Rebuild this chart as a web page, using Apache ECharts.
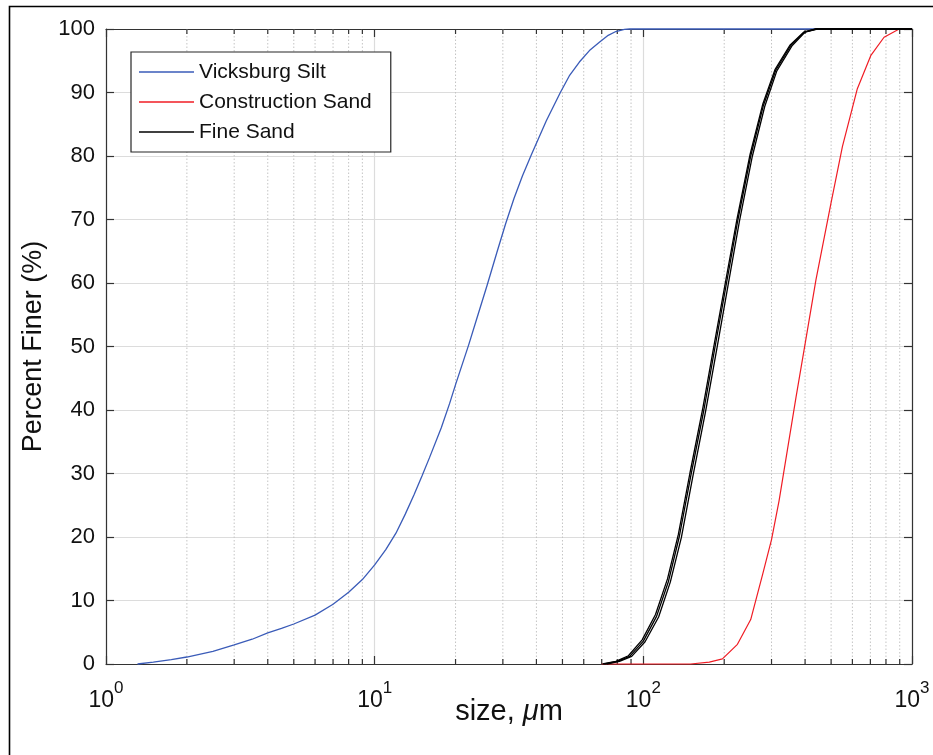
<!DOCTYPE html>
<html>
<head>
<meta charset="utf-8">
<script src="https://cdn.jsdelivr.net/npm/echarts@6/dist/echarts.min.js"></script>
<style>html,body{margin:0;padding:0;background:#fff}#c{width:933px;height:755px}</style>
</head>
<body>
<div id="c"></div>
<script>
// ---- data (size in µm, percent finer) ----
const seriesNames = ['Vicksburg Silt', 'Construction Sand', 'Fine Sand'];
const seriesColors = ['#3a5bb8', '#f01c24', '#000000'];
const yTicks = [0, 10, 20, 30, 40, 50, 60, 70, 80, 90, 100];
const xMinorTicks = [2,3,4,5,6,7,8,9,20,30,40,50,60,70,80,90,200,300,400,500,600,700,800,900];

const vicksburgSilt = [
  [1.31,0],[1.5,0.3],[1.75,0.7],[2,1.1],[2.5,2.0],[3,3.0],[3.5,3.9],[4,4.9],[4.5,5.6],[5,6.3],
  [6,7.7],[7,9.4],[8,11.3],[9,13.3],[10,15.6],[11,18],[12,20.6],[13,23.6],[14,26.6],[15,29.6],
  [16,32.5],[17.7,37.2],[19,41],[20,44],[22.4,50.3],[24,54.4],[26.2,59.6],[28.5,64.8],[30.7,69.3],
  [33,73.3],[35.5,76.9],[38.3,80.2],[43.5,85.5],[49.1,90],[53,92.6],[57.8,94.8],[63,96.6],
  [68.6,97.9],[74,99.0],[79,99.6],[85,99.95],[89,100],[1000,100]
];
const constructionSand = [
  [70,0],[150,0],[176,0.3],[197,0.8],[224,3.1],[251,7],[278,14.1],[300,19.6],[320,25.7],
  [344,33.8],[370,42],[397,49.6],[439,60.5],[499,72.5],[551,81.5],[626,90.6],[702,95.8],
  [787,98.7],[896,100],[1000,100]
];
const fineSandA = [
  [71.6,0],[80,0.4],[89,1.2],[100,3.6],[112,7.5],[124,13],[136,20],[150,29.5],[168,40],
  [185,50],[204,60],[225,70],[251,80],[280,88],[311,93.5],[354,97.4],[397,99.5],[440,100],[1000,100]
];
const fineSandB = [
  [73,0],[81.5,0.4],[90.5,1.2],[101.5,3.5],[114,7.4],[126,12.9],[138.5,19.9],[152.5,29.3],[170.5,39.8],
  [188,49.8],[207,59.8],[228,69.8],[254,79.8],[283,87.8],[314,93.4],[357,97.3],[400,99.5],[444,100],[1000,100]
];
const fineSandC = [
  [70.5,0],[79,0.4],[88,1.3],[99,3.8],[111,7.8],[123,13.4],[135,20.4],[149,30],[166.5,40.3],
  [183.5,50.3],[202.5,60.3],[223.5,70.2],[249.5,80.2],[278.5,88.2],[309,93.6],[352,97.5],[395,99.5],[438,100],[1000,100]
];

const FONT = 'Liberation Sans, Arial, sans-serif';
const TXT = '#111111';
const AX = '#333333';

const chart = echarts.init(document.getElementById('c'));

function lineSeries(name, data, color, width) {
  return {
    name, type: 'line', data, showSymbol: false, symbol: 'none', clip: false,
    color, itemStyle: { color }, lineStyle: { color, width }, z: 3, silent: true, animation: false
  };
}

const option = {
  animation: false,
  backgroundColor: '#fff',
  textStyle: { fontFamily: FONT },
  grid: { left: 106, top: 29, right: 21, bottom: 91, containLabel: false },
  legend: {
    data: seriesNames.map((n, i) => ({ name: n, itemStyle: { color: seriesColors[i], borderWidth: 0 } })),
    orient: 'vertical',
    left: 131, top: 52,
    padding: [8, 19, 8, 8],
    itemGap: 6,
    itemWidth: 55, itemHeight: 1.3,
    icon: 'rect',
    itemStyle: { borderWidth: 0 },
    borderColor: '#262626', borderWidth: 1.2,
    backgroundColor: '#fff',
    textStyle: { fontFamily: FONT, fontSize: 21, color: TXT, lineHeight: 24 },
    selectedMode: false
  },
  xAxis: [{
    type: 'log', logBase: 10, min: 1, max: 1000, splitNumber: 3,
    position: 'bottom',
    name: '{n|size, }{m|μ}{n|m}',
    nameLocation: 'middle', nameGap: 33, nameMoveOverlap: false,
    nameTextStyle: { rich: {
      n: { fontFamily: FONT, fontSize: 29, color: TXT },
      m: { fontFamily: FONT, fontSize: 29, color: TXT, fontStyle: 'italic' }
    } },
    axisLine: { show: true, onZero: false, lineStyle: { color: AX, width: 1.2 } },
    axisTick: { show: true, inside: true, length: 8, lineStyle: { color: AX, width: 1.2 } },
    minorTick: { show: false },
    splitLine: { show: true, lineStyle: { color: '#dcdcdc', width: 1.2 } },
    axisLabel: {
      margin: 26,
      formatter: function (v) {
        const e = Math.round(Math.log10(v));
        return '{b|10}{s|' + e + '}';
      },
      rich: {
        b: { fontFamily: FONT, fontSize: 23, color: TXT, lineHeight: 22, verticalAlign: 'middle' },
        s: { fontFamily: FONT, fontSize: 17, color: TXT, lineHeight: 16, padding: [0, 0, 25, 0], verticalAlign: 'middle' }
      }
    }
  }, {
    type: 'log', logBase: 10, min: 1, max: 1000, splitNumber: 3,
    position: 'top',
    axisLine: { show: true, onZero: false, lineStyle: { color: AX, width: 1.2 } },
    axisTick: { show: true, inside: true, length: 8, lineStyle: { color: AX, width: 1.2 } },
    axisLabel: { show: false },
    splitLine: { show: false }
  }],
  yAxis: [{
    type: 'value', min: 0, max: 100, interval: 10,
    position: 'left',
    name: 'Percent Finer (%)',
    nameLocation: 'middle', nameGap: 59, nameRotate: 90,
    nameTextStyle: { fontFamily: FONT, fontSize: 27, color: TXT },
    axisLine: { show: true, lineStyle: { color: AX, width: 1.2 } },
    axisTick: { show: true, inside: true, length: 8, lineStyle: { color: AX, width: 1.2 } },
    splitLine: { show: true, lineStyle: { color: '#dcdcdc', width: 1.2 } },
    axisLabel: { fontFamily: FONT, fontSize: 22, color: TXT, margin: 11,
      formatter: function (v) { return yTicks.indexOf(v) >= 0 ? String(v) : ''; } }
  }, {
    type: 'value', min: 0, max: 100, interval: 10,
    position: 'right',
    axisLine: { show: true, lineStyle: { color: AX, width: 1.2 } },
    axisTick: { show: true, inside: true, length: 8, lineStyle: { color: AX, width: 1.2 } },
    splitLine: { show: false },
    axisLabel: { show: false }
  }],
  series: [
    {
      type: 'custom', name: 'minor', silent: true, z: 1,
      xAxisIndex: 0, yAxisIndex: 0,
      data: xMinorTicks.map(v => [v, 0]),
      encode: { x: 0, y: 1 },
      renderItem: function (params, api) {
        const v = api.value(0);
        const b = api.coord([v, 0]);
        const t = api.coord([v, 100]);
        return {
          type: 'group',
          children: [
            { type: 'line', shape: { x1: b[0], y1: b[1], x2: t[0], y2: t[1] },
              style: { stroke: '#c4c4c4', lineWidth: 1, lineDash: [1.5, 2] } },
            { type: 'line', shape: { x1: b[0], y1: b[1], x2: b[0], y2: b[1] - 5 },
              style: { stroke: AX, lineWidth: 1.2 } },
            { type: 'line', shape: { x1: t[0], y1: t[1], x2: t[0], y2: t[1] + 5 },
              style: { stroke: AX, lineWidth: 1.2 } }
          ]
        };
      }
    },
    lineSeries(seriesNames[0], vicksburgSilt, seriesColors[0], 1.3),
    lineSeries(seriesNames[1], constructionSand, seriesColors[1], 1.2),
    lineSeries(seriesNames[2], fineSandA, seriesColors[2], 1.3),
    lineSeries(seriesNames[2], fineSandB, seriesColors[2], 1.3),
    lineSeries(seriesNames[2], fineSandC, seriesColors[2], 1.3)
  ],
  graphic: [{
    type: 'rect', silent: true, z: 100,
    shape: { x: 9.5, y: 6.5, width: 1000, height: 1000 },
    style: { fill: 'none', stroke: '#000', lineWidth: 1.6 }
  }]
};
chart.setOption(option);
</script>
</body>
</html>
